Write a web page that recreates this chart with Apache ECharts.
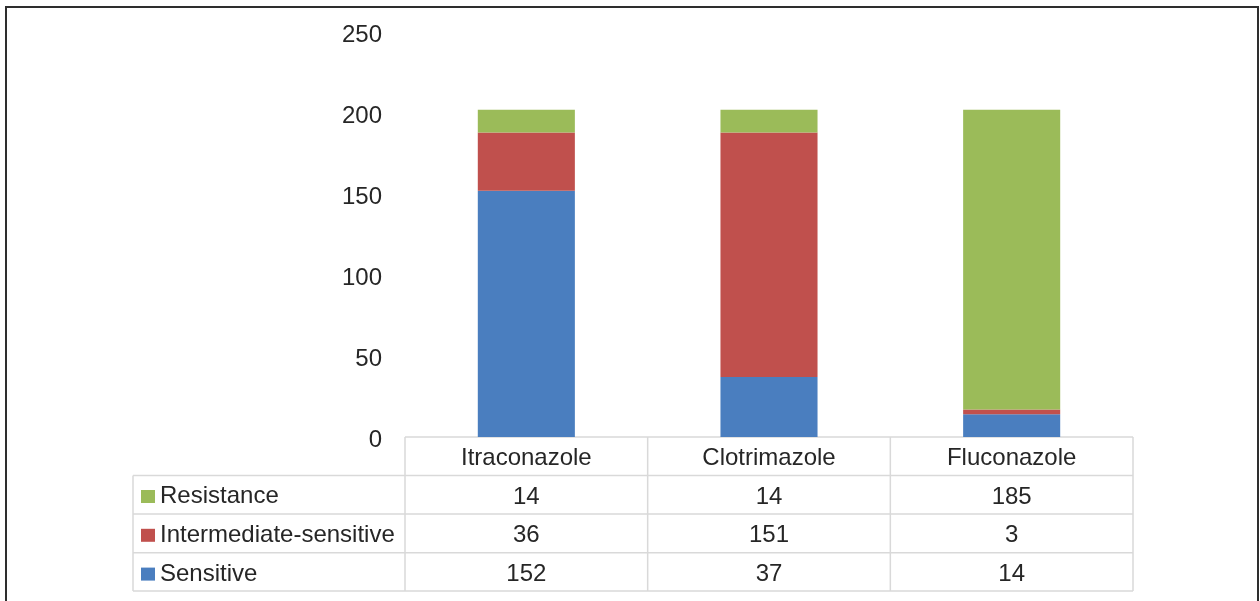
<!DOCTYPE html>
<html>
<head>
<meta charset="utf-8">
<title>Antifungal susceptibility</title>
<script src="https://cdn.jsdelivr.net/npm/echarts@6/dist/echarts.min.js"></script>
<style>
  html, body { margin: 0; padding: 0; background: #fff; }
  #main { width: 1260px; height: 601px; }
</style>
</head>
<body>
<div id="main"></div>
<script>
// data
var drugs = ["Itraconazole", "Clotrimazole", "Fluconazole"];
var resistance = [14, 14, 185];
var intermediate = [36, 151, 3];
var sensitive = [152, 37, 14];
var yTicks = [0, 50, 100, 150, 200, 250];

var FONT = "Liberation Sans, Arial, sans-serif";
var FS = 24;
var TXT = "#262626";
var LINE = "#d9d9d9";

// layout of the plot + data table
var gridLeft = 405, gridRight = 1133, gridTop = 32, gridBottom = 437;
var rowY = [437, 475.5, 514, 552.7, 591]; // header, resistance, intermediate, sensitive
var labelLeft = 133;
var colW = (gridRight - gridLeft) / drugs.length;

var chart = echarts.init(document.getElementById("main"));

// table rows under the axis: header + one row per series
var rows = [
  { vals: null },
  { vals: resistance },
  { vals: intermediate },
  { vals: sensitive }
];
var headerCenter = (rowY[0] + rowY[1]) / 2;
var xAxes = rows.map(function (r, k) {
  var center = (rowY[k] + rowY[k + 1]) / 2;
  return {
    type: "category",
    data: drugs,
    position: "bottom",
    offset: center - headerCenter,
    axisLine: { show: false },
    axisTick: { show: false },
    axisLabel: {
      margin: headerCenter - gridBottom - 9.5,
      fontFamily: FONT,
      fontSize: FS,
      lineHeight: 24,
      color: TXT,
      formatter: function (v, i) {
        return r.vals ? String(r.vals[i]) : v;
      }
    }
  };
});

// table grid lines
var g = [];
function hline(y, x1, x2) {
  g.push({ type: "line", shape: { x1: x1, y1: y, x2: x2, y2: y }, style: { stroke: LINE, lineWidth: 1.5 } });
}
function vline(x, y1, y2) {
  g.push({ type: "line", shape: { x1: x, y1: y1, x2: x, y2: y2 }, style: { stroke: LINE, lineWidth: 1.5 } });
}
hline(rowY[0], gridLeft, gridRight);
for (var r = 1; r < rowY.length; r++) hline(rowY[r], labelLeft, gridRight);
vline(labelLeft, rowY[1], rowY[4]);
for (var c = 0; c <= drugs.length; c++) vline(gridLeft + c * colW, rowY[0], rowY[4]);
// outer frame
g.push({ type: "rect", shape: { x: 6, y: 7, width: 1252, height: 700 }, style: { fill: "none", stroke: "#2e2e2e", lineWidth: 2 } });

var option = {
  animation: false,
  backgroundColor: "#fff",
  color: ["#4a7ebf", "#c0504d", "#9bbb59"],
  grid: { left: gridLeft, right: 1260 - gridRight, top: gridTop, bottom: 601 - gridBottom },
  legend: {
    orient: "vertical",
    left: 141,
    top: rowY[1] + 9,
    padding: 0,
    itemWidth: 14,
    itemHeight: 13,
    itemGap: 14.8,
    icon: "rect",
    selectedMode: false,
    data: ["Resistance", "Intermediate-sensitive", "Sensitive"],
    textStyle: { fontFamily: FONT, fontSize: FS, lineHeight: 24, color: TXT }
  },
  xAxis: xAxes,
  yAxis: {
    type: "value",
    min: yTicks[0],
    max: yTicks[yTicks.length - 1],
    interval: 50,
    axisLine: { show: false },
    axisTick: { show: false },
    splitLine: { show: false },
    axisLabel: {
      margin: 23,
      formatter: "{v|{value}}",
      rich: { v: { fontFamily: FONT, fontSize: FS, color: TXT, lineHeight: 24, padding: [6, 0, 0, 0] } }
    }
  },
  series: [
    { name: "Sensitive", type: "bar", stack: "all", barWidth: "40%", data: sensitive },
    { name: "Intermediate-sensitive", type: "bar", stack: "all", barWidth: "40%", data: intermediate },
    { name: "Resistance", type: "bar", stack: "all", barWidth: "40%", data: resistance }
  ],
  graphic: g
};
chart.setOption(option);
</script>
</body>
</html>
